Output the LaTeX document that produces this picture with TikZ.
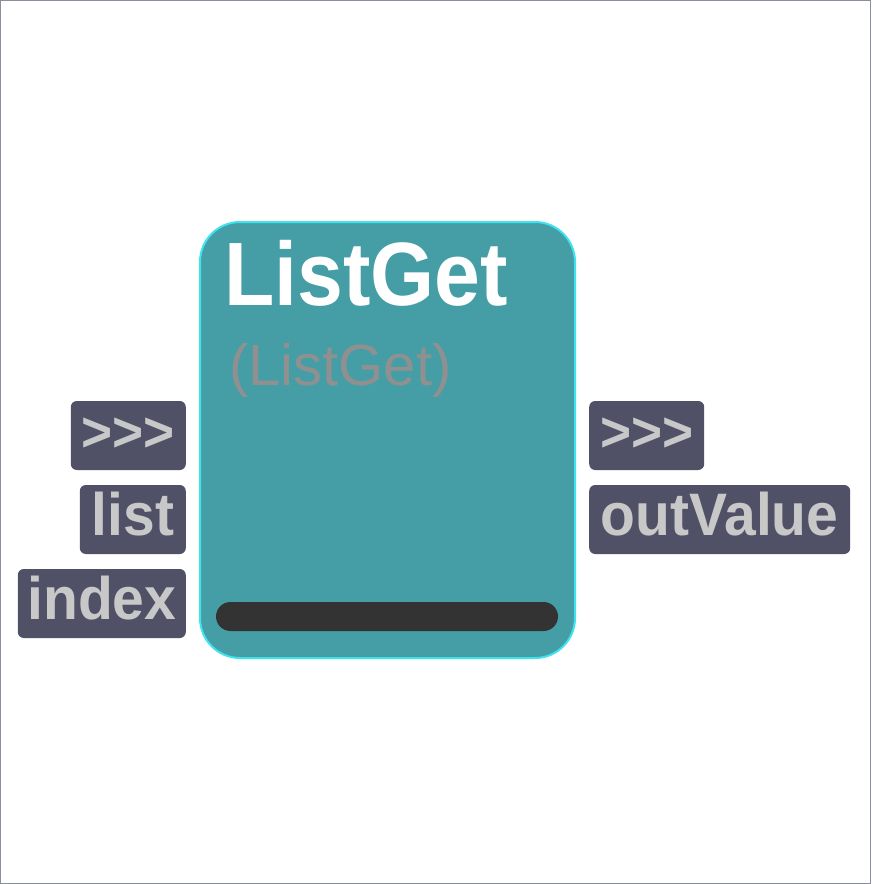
\documentclass[tikz,border=0pt]{standalone}
\usepackage{fontspec}
\setmainfont{Liberation Sans}
\newfontfamily\portfont[FakeStretch=0.95]{Liberation Sans}
\newfontfamily\titlefont[FakeStretch=0.915]{Liberation Sans}
\definecolor{teal1}{HTML}{459EA6}
\definecolor{edgecyan}{HTML}{3FE3F0}
\definecolor{portfill}{HTML}{505067}
\definecolor{porttext}{HTML}{C8C8C8}
\definecolor{subgray}{HTML}{909090}
\definecolor{bardark}{HTML}{333333}
\definecolor{frame}{HTML}{8A8E9C}
\tikzset{
  portbox/.style={fill=portfill, rounded corners=6pt, minimum height=69pt,
    inner xsep=2pt, inner ysep=0pt, text=porttext,
    font=\portfont\bfseries\fontsize{60}{60}\selectfont,
    text height=38pt, text depth=7pt},
  arrows3/.style={font=\portfont\bfseries\fontsize{56}{60}\selectfont},
}
\begin{document}
\begin{tikzpicture}[x=1pt,y=-1pt]
\useasboundingbox (0,0) rectangle (871,884);
\draw[frame, line width=1pt] (0.5,0.5) rectangle (870.5,883.5);
% main body
\node[draw=edgecyan, line width=2pt, fill=teal1, rounded corners=40pt,
  minimum width=375pt, minimum height=436pt, inner sep=0pt] (main) at (387.5,440) {};
\node[anchor=base west, inner sep=0pt, text=white,
  font=\titlefont\bfseries\fontsize{90}{90}\selectfont] (title) at (224,305) {ListGet};
\node[anchor=base west, inner sep=0pt, text=subgray,
  font=\fontsize{58}{58}\selectfont] (subtitle) at (229,385) {(ListGet)};
\node[fill=bardark, rounded corners=14.5pt, minimum width=342pt, minimum height=29pt,
  inner sep=0pt] (bar) at (387,616.5) {};
% input ports
\node[portbox, arrows3, minimum width=115pt, anchor=east] (inexec) at (186,435.5) {>>>};
\node[portbox, minimum width=106pt, anchor=east] (inlist) at (186,519.5) {list};
\node[portbox, minimum width=168pt, anchor=east] (inindex) at (186,603.5) {index};
% output ports
\node[portbox, arrows3, minimum width=115pt, anchor=west] (outexec) at (589,435.5) {>>>};
\node[portbox, minimum width=261pt, anchor=west] (outvalue) at (589,519.5) {outValue};
\end{tikzpicture}
\end{document}
